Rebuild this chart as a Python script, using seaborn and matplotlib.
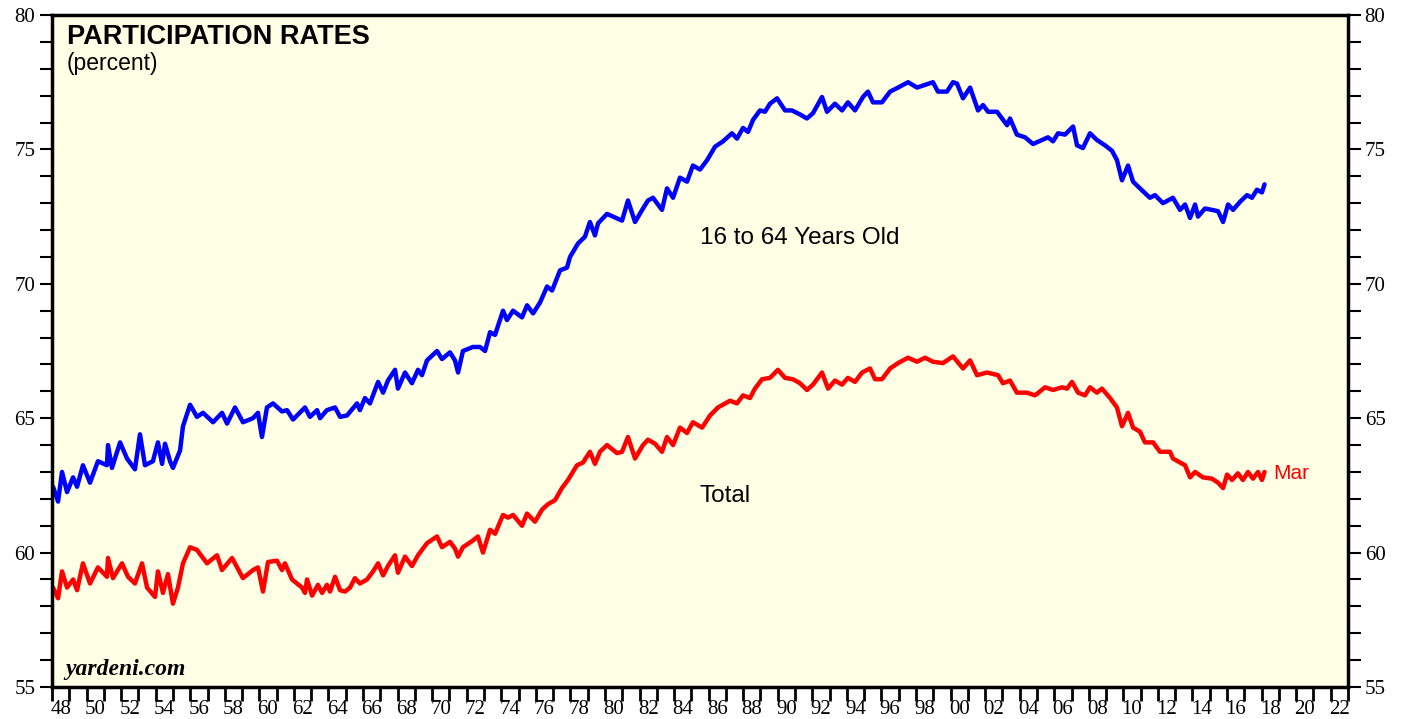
import seaborn as sns
import pandas as pd
import matplotlib.pyplot as plt
from matplotlib.ticker import MultipleLocator, NullFormatter

# 16 to 64 years old (decimal year, percent)
age_years = [1948.06, 1948.35, 1948.58, 1948.87, 1949.22, 1949.45, 1949.79, 1950.20, 1950.66, 1951.18,
             1951.24, 1951.47, 1951.94, 1952.34, 1952.80, 1953.09, 1953.38, 1953.84, 1954.13, 1954.37,
             1954.54, 1954.83, 1955.00, 1955.41, 1955.58, 1955.99, 1956.39, 1956.74, 1957.32, 1957.84,
             1958.13, 1958.59, 1959.05, 1959.63, 1959.92, 1960.15, 1960.44, 1960.79, 1961.31, 1961.60,
             1961.95, 1962.64, 1962.93, 1963.34, 1963.51, 1963.91, 1964.38, 1964.67, 1965.07, 1965.65,
             1965.82, 1966.11, 1966.40, 1966.87, 1967.16, 1967.44, 1967.85, 1968.02, 1968.43, 1968.83,
             1969.18, 1969.41, 1969.70, 1970.28, 1970.57, 1971.03, 1971.32, 1971.50, 1971.78, 1972.36,
             1972.77, 1973.06, 1973.35, 1973.64, 1974.10, 1974.33, 1974.68, 1975.20, 1975.49, 1975.84,
             1976.24, 1976.65, 1976.94, 1977.40, 1977.80, 1977.98, 1978.44, 1978.84, 1979.13, 1979.42,
             1979.60, 1980.12, 1980.47, 1980.99, 1981.33, 1981.74, 1982.20, 1982.49, 1982.78, 1983.30,
             1983.59, 1983.94, 1984.34, 1984.75, 1985.09, 1985.50, 1985.91, 1986.37, 1986.83, 1987.35,
             1987.64, 1987.99, 1988.28, 1988.57, 1988.97, 1989.26, 1989.55, 1989.96, 1990.42, 1990.82,
             1991.29, 1991.69, 1992.04, 1992.56, 1992.85, 1993.31, 1993.72, 1994.06, 1994.47, 1994.93,
             1995.22, 1995.51, 1996.03, 1996.50, 1996.96, 1997.54, 1998.06, 1998.52, 1998.98, 1999.27,
             1999.79, 2000.14, 2000.37, 2000.72, 2001.13, 2001.59, 2001.88, 2002.17, 2002.69, 2003.27,
             2003.44, 2003.84, 2004.31, 2004.77, 2005.29, 2005.64, 2005.93, 2006.22, 2006.62, 2007.09,
             2007.32, 2007.66, 2008.07, 2008.47, 2008.94, 2009.34, 2009.63, 2009.92, 2010.27, 2010.56,
             2010.96, 2011.54, 2011.83, 2012.29, 2012.87, 2013.28, 2013.57, 2013.86, 2014.15, 2014.32,
             2014.72, 2015.13, 2015.48, 2015.77, 2016.06, 2016.35, 2016.75, 2017.16, 2017.44, 2017.73,
             2018.02, 2018.17]
age_16_64 = [62.45, 61.9, 63.0, 62.25, 62.8, 62.45, 63.25, 62.6, 63.4, 63.25,
             64.0, 63.15, 64.1, 63.5, 63.1, 64.4, 63.25, 63.4, 64.1, 63.3,
             64.05, 63.4, 63.15, 63.8, 64.7, 65.5, 65.05, 65.2, 64.85, 65.2,
             64.8, 65.4, 64.85, 65.0, 65.2, 64.3, 65.4, 65.55, 65.25, 65.3,
             64.95, 65.4, 65.05, 65.3, 65.0, 65.3, 65.4, 65.05, 65.1, 65.55,
             65.3, 65.75, 65.55, 66.35, 65.95, 66.4, 66.8, 66.1, 66.7, 66.3,
             66.8, 66.6, 67.15, 67.5, 67.2, 67.45, 67.15, 66.7, 67.5, 67.65,
             67.65, 67.5, 68.2, 68.1, 69.0, 68.65, 69.0, 68.75, 69.2, 68.9,
             69.3, 69.9, 69.75, 70.5, 70.6, 71.0, 71.5, 71.75, 72.3, 71.8,
             72.25, 72.6, 72.5, 72.35, 73.1, 72.3, 72.8, 73.1, 73.2, 72.75,
             73.55, 73.2, 73.95, 73.8, 74.4, 74.25, 74.6, 75.1, 75.3, 75.6,
             75.4, 75.8, 75.65, 76.1, 76.45, 76.4, 76.7, 76.9, 76.45, 76.45,
             76.3, 76.15, 76.35, 76.95, 76.4, 76.7, 76.45, 76.75, 76.45, 76.95,
             77.15, 76.75, 76.75, 77.15, 77.3, 77.5, 77.3, 77.4, 77.5, 77.15,
             77.15, 77.5, 77.45, 76.9, 77.3, 76.45, 76.65, 76.4, 76.4, 75.9,
             76.15, 75.55, 75.45, 75.2, 75.35, 75.45, 75.3, 75.6, 75.55, 75.85,
             75.15, 75.05, 75.6, 75.35, 75.15, 74.95, 74.6, 73.85, 74.4, 73.8,
             73.55, 73.2, 73.3, 73.0, 73.2, 72.75, 72.95, 72.45, 72.95, 72.5,
             72.8, 72.75, 72.7, 72.3, 72.95, 72.75, 73.05, 73.3, 73.2, 73.5,
             73.4, 73.7]

# Total (decimal year, percent)
total_years = [1948.06, 1948.35, 1948.58, 1948.87, 1949.22, 1949.45, 1949.79, 1950.20, 1950.66, 1951.18,
               1951.24, 1951.53, 1952.05, 1952.40, 1952.80, 1953.21, 1953.50, 1953.96, 1954.13, 1954.42,
               1954.71, 1955.00, 1955.29, 1955.58, 1955.99, 1956.39, 1956.97, 1957.55, 1957.84, 1958.42,
               1959.05, 1959.63, 1959.92, 1960.21, 1960.50, 1961.02, 1961.31, 1961.48, 1961.89, 1962.47,
               1962.64, 1962.76, 1963.05, 1963.39, 1963.63, 1963.91, 1964.09, 1964.38, 1964.67, 1964.96,
               1965.25, 1965.53, 1965.82, 1966.23, 1966.58, 1966.87, 1967.16, 1967.44, 1967.85, 1968.02,
               1968.43, 1968.83, 1969.18, 1969.70, 1970.28, 1970.57, 1971.03, 1971.32, 1971.50, 1971.78,
               1972.36, 1972.65, 1972.94, 1973.35, 1973.64, 1974.10, 1974.39, 1974.68, 1975.20, 1975.49,
               1975.95, 1976.36, 1976.70, 1977.11, 1977.51, 1977.86, 1978.38, 1978.73, 1979.13, 1979.42,
               1979.71, 1980.12, 1980.70, 1980.99, 1981.33, 1981.74, 1982.20, 1982.49, 1982.90, 1983.30,
               1983.59, 1983.94, 1984.34, 1984.75, 1985.09, 1985.62, 1986.08, 1986.54, 1987.24, 1987.64,
               1987.99, 1988.39, 1988.68, 1989.09, 1989.55, 1990.01, 1990.42, 1990.88, 1991.29, 1991.69,
               1992.04, 1992.56, 1992.91, 1993.31, 1993.72, 1994.06, 1994.47, 1994.88, 1995.34, 1995.63,
               1996.03, 1996.50, 1996.96, 1997.54, 1998.06, 1998.52, 1998.98, 1999.56, 2000.14, 2000.72,
               2001.13, 2001.53, 2002.11, 2002.75, 2003.03, 2003.44, 2003.84, 2004.42, 2004.89, 2005.47,
               2005.93, 2006.45, 2006.74, 2007.03, 2007.38, 2007.78, 2008.07, 2008.47, 2008.76, 2009.23,
               2009.63, 2009.92, 2010.27, 2010.56, 2010.96, 2011.25, 2011.72, 2012.12, 2012.70, 2012.87,
               2013.28, 2013.57, 2013.86, 2014.15, 2014.60, 2015.13, 2015.48, 2015.77, 2016.00, 2016.29,
               2016.63, 2016.92, 2017.21, 2017.50, 2017.79, 2018.02, 2018.17]
total_rate = [58.7, 58.3, 59.3, 58.7, 59.0, 58.6, 59.6, 58.85, 59.45, 59.1,
              59.8, 59.05, 59.6, 59.1, 58.85, 59.6, 58.7, 58.35, 59.3, 58.5,
              59.2, 58.1, 58.7, 59.6, 60.2, 60.1, 59.6, 59.9, 59.35, 59.8,
              59.05, 59.35, 59.45, 58.55, 59.65, 59.7, 59.35, 59.6, 59.0, 58.7,
              58.5, 59.0, 58.4, 58.8, 58.5, 58.8, 58.55, 59.1, 58.6, 58.55,
              58.7, 59.05, 58.85, 59.0, 59.3, 59.6, 59.15, 59.5, 59.9, 59.25,
              59.85, 59.5, 59.9, 60.35, 60.6, 60.2, 60.4, 60.15, 59.85, 60.2,
              60.45, 60.6, 60.0, 60.85, 60.7, 61.4, 61.3, 61.4, 61.0, 61.45,
              61.15, 61.6, 61.8, 61.95, 62.4, 62.7, 63.25, 63.35, 63.75, 63.3,
              63.75, 64.0, 63.7, 63.75, 64.3, 63.5, 64.0, 64.2, 64.05, 63.75,
              64.3, 64.0, 64.65, 64.45, 64.85, 64.65, 65.1, 65.4, 65.65, 65.55,
              65.85, 65.75, 66.1, 66.45, 66.5, 66.8, 66.5, 66.45, 66.3, 66.05,
              66.25, 66.7, 66.1, 66.4, 66.25, 66.5, 66.35, 66.7, 66.85, 66.45,
              66.45, 66.85, 67.05, 67.25, 67.1, 67.25, 67.1, 67.05, 67.3, 66.85,
              67.15, 66.6, 66.7, 66.6, 66.3, 66.4, 65.95, 65.95, 65.85, 66.15,
              66.05, 66.15, 66.1, 66.35, 65.95, 65.85, 66.15, 65.95, 66.1, 65.75,
              65.4, 64.7, 65.2, 64.65, 64.5, 64.1, 64.1, 63.75, 63.75, 63.5,
              63.35, 63.25, 62.8, 63.0, 62.8, 62.75, 62.6, 62.4, 62.9, 62.7,
              62.95, 62.7, 63.0, 62.75, 63.0, 62.7, 63.0]

year_labels = ["48", "50", "52", "54", "56", "58", "60", "62", "64", "66", "68", "70", "72",
               "74", "76", "78", "80", "82", "84", "86", "88", "90", "92", "94", "96", "98",
               "00", "02", "04", "06", "08", "10", "12", "14", "16", "18", "20", "22"]

age_df = pd.DataFrame({"year": age_years, "rate": age_16_64})
total_df = pd.DataFrame({"year": total_years, "rate": total_rate})

sns.set_style("ticks")
plt.rcParams["font.family"] = ["Liberation Sans", "DejaVu Sans"]
plt.rcParams["text.color"] = "black"
plt.rcParams["xtick.color"] = "black"
plt.rcParams["ytick.color"] = "black"

fig = plt.figure(figsize=(14.07, 7.19), dpi=100)
ax = fig.add_axes([52 / 1407, 1 - 687 / 719, 1296 / 1407, 672 / 719])
ax.set_facecolor("#FFFFE5")

sns.lineplot(data=age_df, x="year", y="rate", color="#0000FF", lw=3.2,
             estimator=None, ax=ax)
sns.lineplot(data=total_df, x="year", y="rate", color="#FF0000", lw=3.2,
             estimator=None, ax=ax)

ax.set_xlim(1948, 2023)
ax.set_ylim(55, 80)
ax.set_xlabel("")
ax.set_ylabel("")

# y axis: labels on both sides, minor ticks every point
ax.yaxis.set_major_locator(MultipleLocator(5))
ax.yaxis.set_minor_locator(MultipleLocator(1))
ax.tick_params(axis="y", which="both", left=True, right=True,
               labelleft=True, labelright=True, direction="out",
               length=9, width=1.5, labelsize=15, pad=3, colors="black")

# x axis: a tick each year, labels centred on even years
ax.xaxis.set_major_locator(MultipleLocator(1))
ax.xaxis.set_major_formatter(NullFormatter())
label_pos = [1948.5 + 2 * i for i in range(len(year_labels))]
ax.set_xticks(label_pos, labels=year_labels, minor=True)
ax.tick_params(axis="x", which="major", direction="out", length=10, width=2, colors="black")
ax.tick_params(axis="x", which="minor", length=0, labelsize=15, pad=9, colors="black")

for lab in ax.get_xticklabels(minor=True):
    lab.set_fontfamily("Liberation Serif")
for t in ax.yaxis.get_major_ticks():
    t.label1.set_fontfamily("Liberation Serif")
    t.label2.set_fontfamily("Liberation Serif")

for side in ["left", "right", "top", "bottom"]:
    ax.spines[side].set_linewidth(2.5)
    ax.spines[side].set_color("black")

ax.text(0.0116, 0.957, "PARTICIPATION RATES", transform=ax.transAxes,
        fontsize=19.5, fontweight="bold", va="baseline", ha="left")
ax.text(0.0116, 0.918, "(percent)", transform=ax.transAxes,
        fontsize=16.5, va="baseline", ha="left")
ax.text(0.010, 0.018, "yardeni.com", transform=ax.transAxes, fontsize=17,
        fontweight="bold", fontstyle="italic", family="Liberation Serif",
        va="baseline", ha="left")

ax.text(1985.5, 71.7, "16 to 64 Years Old", fontsize=17.5, va="center", ha="left")
ax.text(1985.5, 62.1, "Total", fontsize=17.5, va="center", ha="left")
ax.text(2018.65, 62.95, "Mar", fontsize=15, color="#FF0000", va="center", ha="left")

fig.savefig("out.png", dpi=100)
